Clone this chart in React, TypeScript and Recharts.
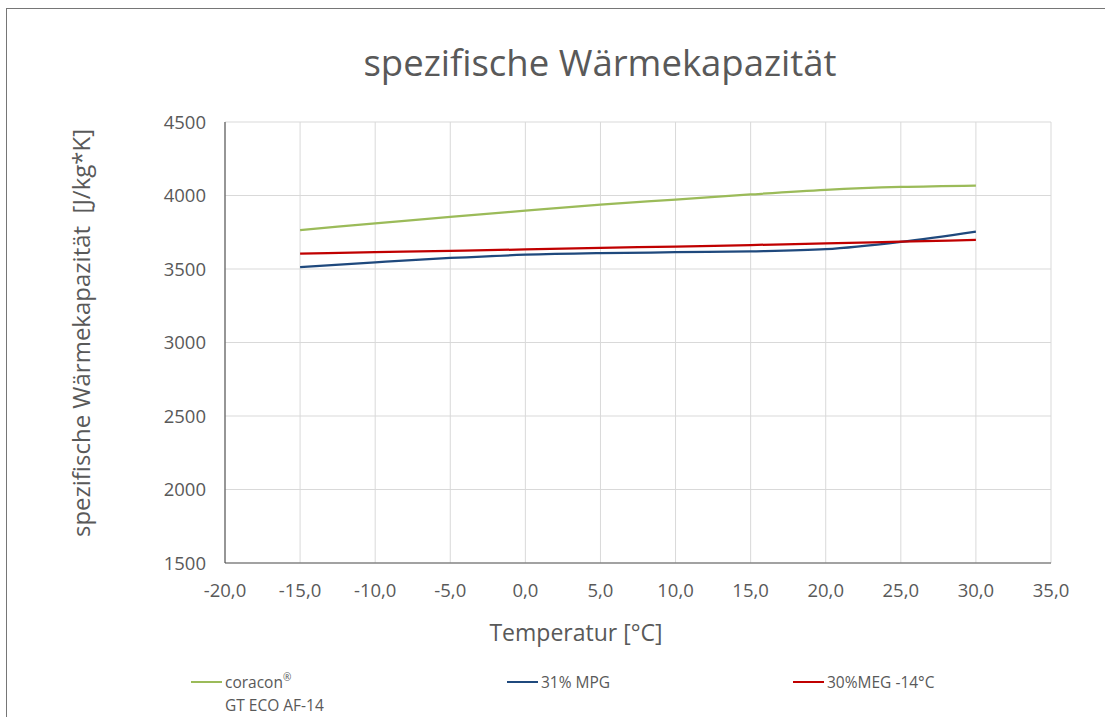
import { LineChart, Line, XAxis, YAxis, CartesianGrid } from "recharts";

const temps = [-15, -10, -5, 0, 5, 10, 15, 20, 25, 30];
const coracon = [3765, 3810, 3855, 3897, 3938, 3972, 4007, 4038, 4058, 4068];
const mpg31 = [3512, 3545, 3575, 3597, 3608, 3614, 3620, 3635, 3685, 3755];
const meg30 = [3605, 3615, 3624, 3633, 3643, 3653, 3663, 3675, 3686, 3698];

const xTicks = [-20, -15, -10, -5, 0, 5, 10, 15, 20, 25, 30, 35];
const yTicks = [1500, 2000, 2500, 3000, 3500, 4000, 4500];

const SERIES = [
  { key: "coracon", label: ["coracon", "GT ECO AF-14"], mark: "®", color: "#9bbb59", left: 191 },
  { key: "mpg31", label: ["31% MPG"], mark: "", color: "#1f497d", left: 507 },
  { key: "meg30", label: ["30%MEG -14°C"], mark: "", color: "#c00000", left: 793 },
];

const data = temps.map((t, i) => ({
  t,
  coracon: coracon[i],
  mpg31: mpg31[i],
  meg30: meg30[i],
}));

const FONT = "'Open Sans', sans-serif";
const TEXT = "#595959";

export default function App() {
  return (
    <div
      style={{
        position: "fixed",
        left: 0,
        top: 0,
        width: 1105,
        height: 717,
        overflow: "hidden",
        background: "#fff",
        fontFamily: FONT,
        color: TEXT,
      }}
    >
      {/* chart frame, runs past the window on the right and bottom */}
      <div
        style={{
          position: "absolute",
          left: 6,
          top: 8,
          width: 1130,
          height: 740,
          border: "1px solid #767676",
          boxSizing: "border-box",
        }}
      />
      <div
        style={{
          position: "absolute",
          left: 600,
          top: 62,
          transform: "translate(-50%, -50%)",
          fontSize: 36.5,
          whiteSpace: "nowrap",
        }}
      >
        spezifische Wärmekapazität
      </div>
      <div
        style={{
          position: "absolute",
          left: 80,
          top: 333,
          transform: "translate(-50%, -50%) rotate(-90deg)",
          fontSize: 24,
          whiteSpace: "nowrap",
        }}
      >
        spezifische Wärmekapazität&nbsp;&nbsp;[J/kg*K]
      </div>
      <div
        style={{
          position: "absolute",
          left: 576,
          top: 632,
          transform: "translate(-50%, -50%)",
          fontSize: 23,
          whiteSpace: "nowrap",
        }}
      >
        Temperatur [°C]
      </div>

      <div style={{ position: "absolute", left: 0, top: 0 }}>
        <LineChart
          width={1105}
          height={717}
          data={data}
          margin={{ top: 122, right: 54, bottom: 124, left: 165 }}
        >
          <CartesianGrid stroke="#d9d9d9" strokeWidth={1} />
          <XAxis
            dataKey="t"
            type="number"
            domain={[-20, 35]}
            ticks={xTicks}
            height={30}
            tickSize={0}
            tickMargin={21}
            stroke="#595959"
            tick={{ fill: TEXT, fontSize: 18.5, fontFamily: FONT }}
            tickFormatter={(v: number) => v.toFixed(1).replace(".", ",")}
          />
          <YAxis
            type="number"
            domain={[1500, 4500]}
            ticks={yTicks}
            width={60}
            tickSize={0}
            tickMargin={19}
            stroke="#404040"
            tick={{ fill: TEXT, fontSize: 18.5, fontFamily: FONT }}
          />
          {SERIES.map((s) => (
            <Line
              key={s.key}
              dataKey={s.key}
              type="monotone"
              stroke={s.color}
              strokeWidth={2.25}
              dot={false}
              isAnimationActive={false}
            />
          ))}
        </LineChart>
      </div>

      {SERIES.map((s) => (
        <div key={s.key} style={{ position: "absolute", left: s.left, top: 671, fontSize: 15.5 }}>
          <div style={{ display: "flex", alignItems: "center", height: 22 }}>
            <span style={{ width: 31, height: 2, background: s.color, marginRight: 3 }} />
            <span>
              {s.label[0]}
              {s.mark && (
                <span style={{ fontSize: 10, verticalAlign: "top", position: "relative", top: -1 }}>{s.mark}</span>
              )}
            </span>
          </div>
          {s.label[1] && <div style={{ marginLeft: 34, lineHeight: "24px" }}>{s.label[1]}</div>}
        </div>
      ))}
    </div>
  );
}
